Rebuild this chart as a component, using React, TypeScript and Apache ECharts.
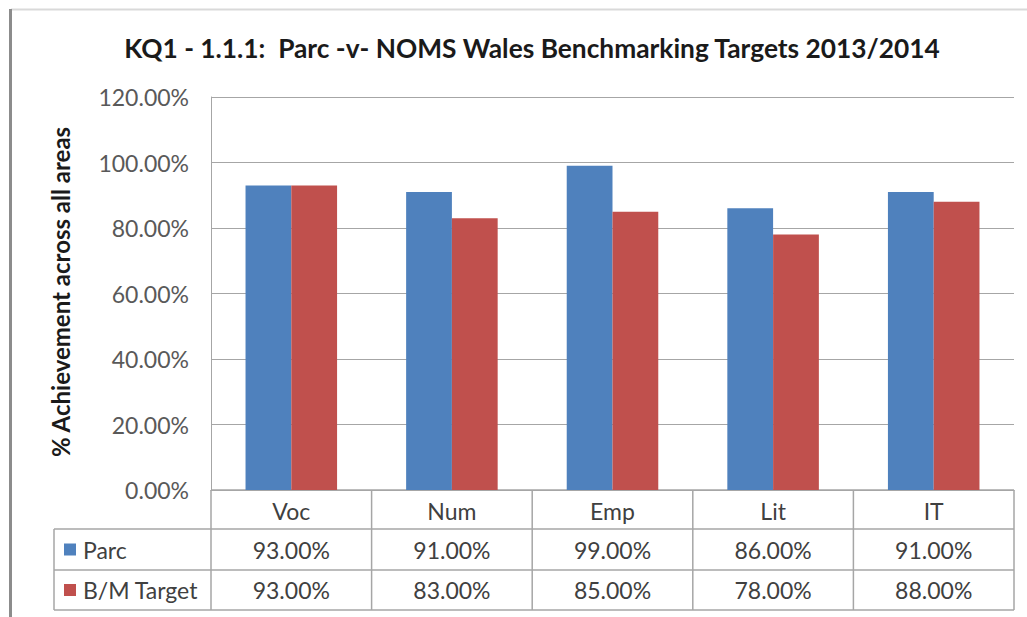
import React, { useEffect, useRef } from "react";
import * as echarts from "echarts";

const title = "KQ1 - 1.1.1:  Parc -v- NOMS Wales Benchmarking Targets 2013/2014";
const yAxisTitle = "% Achievement across all areas";
const categories = ["Voc", "Num", "Emp", "Lit", "IT"];
const seriesNames = ["Parc", "B/M Target"];
const parcValues = [0.93, 0.91, 0.99, 0.86, 0.91];
const targetValues = [0.93, 0.83, 0.85, 0.78, 0.88];
const seriesColors = ["#4F81BD", "#C0504D"];

const FONT = "Lato, 'Open Sans', sans-serif";
const W = 1027;
const H = 617;
const GRID = { left: 211, right: 13, top: 97, bottom: 127 };
const TABLE_LEFT = 54;
const ROW_H = [39, 41, 40];
const LINE_C = "#a6a6a6";
const TEXT_C = "#404040";

const pct = (v: number) => (v * 100).toFixed(2) + "%";

export default function App() {
  const ref = useRef<HTMLDivElement>(null);
  useEffect(() => {
    document.body.style.margin = "0";
    const chart = echarts.init(ref.current!, null, { renderer: "svg" });
    const allSeries = [parcValues, targetValues];
    chart.setOption({
      animation: false,
      backgroundColor: "#ffffff",
      title: {
        text: title,
        left: 527,
        textAlign: "center",
        top: 30,
        textStyle: { fontFamily: FONT, fontSize: 26.3, fontWeight: "bold", color: "#1a1a1a" },
      },
      grid: GRID,
      xAxis: {
        type: "category",
        data: categories,
        axisLine: { show: true, lineStyle: { color: LINE_C, width: 1 } },
        axisTick: { show: false },
        axisLabel: { show: false },
      },
      yAxis: {
        type: "value",
        min: 0,
        max: 1.2,
        interval: 0.2,
        axisLine: { show: true, lineStyle: { color: LINE_C } },
        axisTick: { show: false },
        splitLine: { lineStyle: { color: LINE_C, width: 1 } },
        axisLabel: {
          formatter: (v: number) => pct(v),
          fontFamily: FONT,
          fontSize: 23,
          color: "#595959",
          margin: 22,
        },
      },
      series: allSeries.map((vals, i) => ({
        type: "bar",
        name: seriesNames[i],
        data: vals,
        barGap: "0%",
        barCategoryGap: "43%",
        itemStyle: { color: seriesColors[i] },
      })),
    });

    const centers = categories.map((_, i) => chart.convertToPixel({ xAxisIndex: 0 }, i) as number);
    const band = centers.length > 1 ? centers[1] - centers[0] : W - GRID.left - GRID.right;
    const y0 = chart.convertToPixel({ yAxisIndex: 0 }, 0) as number;
    const rowY = [y0, y0 + ROW_H[0], y0 + ROW_H[0] + ROW_H[1], y0 + ROW_H[0] + ROW_H[1] + ROW_H[2]];
    const right = centers[centers.length - 1] + band / 2;
    const left = centers[0] - band / 2;
    const els: any[] = [];
    const line = (x1: number, y1: number, x2: number, y2: number) =>
      els.push({ type: "line", shape: { x1, y1, x2, y2 }, style: { stroke: LINE_C, lineWidth: 1.5 }, silent: true });
    line(left, rowY[0], right, rowY[0]);
    for (let r = 1; r < 4; r++) line(TABLE_LEFT, rowY[r], right, rowY[r]);
    line(TABLE_LEFT, rowY[1], TABLE_LEFT, rowY[3]);
    for (let i = 0; i <= categories.length; i++) {
      const x = left + band * i;
      line(x, rowY[0], x, rowY[3]);
    }
    const txt = (text: string, x: number, y: number, align: string) =>
      els.push({
        type: "text",
        x,
        y,
        style: { text, fill: TEXT_C, font: `23px ${FONT}`, align, verticalAlign: "middle" },
        silent: true,
      });
    categories.forEach((c, i) => txt(c, centers[i], (rowY[0] + rowY[1]) / 2 + 1, "center"));
    allSeries.forEach((vals, s) => {
      const cy = (rowY[s + 1] + rowY[s + 2]) / 2;
      els.push({
        type: "rect",
        shape: { x: TABLE_LEFT + 10, y: cy - 6, width: 12, height: 12 },
        style: { fill: seriesColors[s] },
        silent: true,
      });
      txt(seriesNames[s], TABLE_LEFT + 29, cy, "left");
      vals.forEach((v, i) => txt(pct(v), centers[i], cy, "center"));
    });
    els.push({
      type: "text",
      x: 60,
      y: 292,
      rotation: Math.PI / 2,
      style: {
        text: yAxisTitle,
        fill: "#1a1a1a",
        font: `bold 24px ${FONT}`,
        align: "center",
        verticalAlign: "middle",
      },
      silent: true,
    });
    els.push({ type: "line", shape: { x1: 11, y1: 9.5, x2: W, y2: 9.5 }, style: { stroke: "#d9d9d9", lineWidth: 2 }, silent: true });
    els.push({ type: "line", shape: { x1: 10.5, y1: 9, x2: 10.5, y2: H }, style: { stroke: "#8c8c8c", lineWidth: 3 }, silent: true });
    chart.setOption({ graphic: { elements: els } });
    return () => chart.dispose();
  }, []);
  return <div ref={ref} style={{ width: W, height: H }} />;
}
